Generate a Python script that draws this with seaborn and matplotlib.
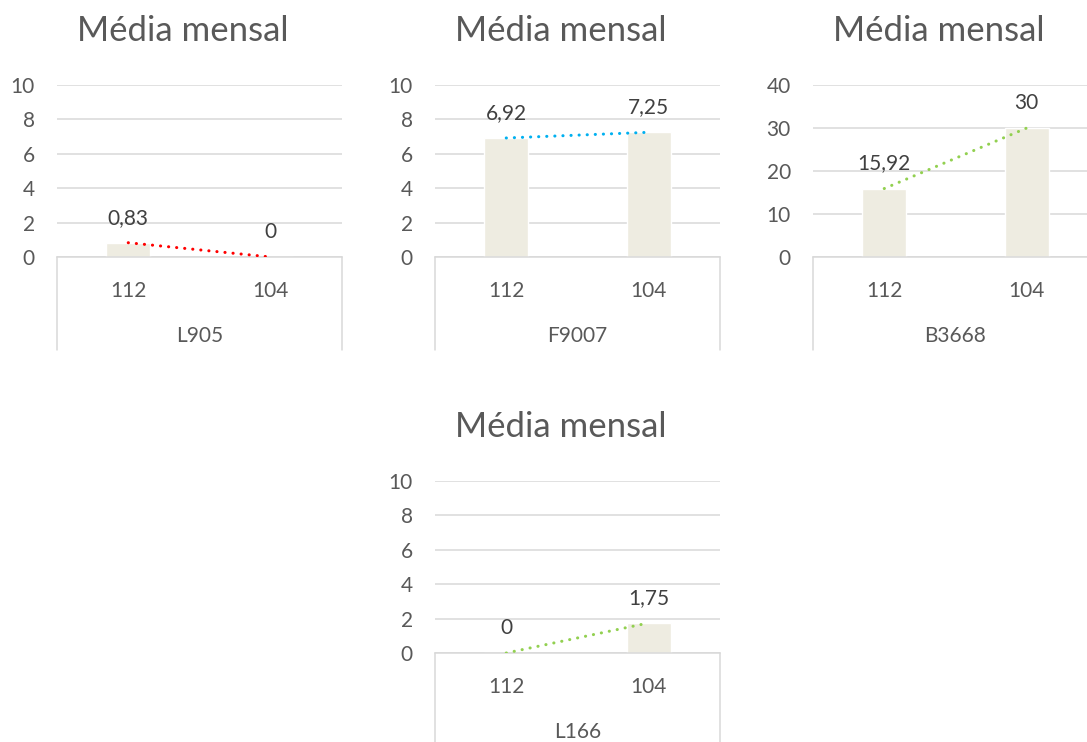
import matplotlib
matplotlib.use("Agg")
import matplotlib.pyplot as plt
from matplotlib.lines import Line2D
import seaborn as sns
import pandas as pd

# Monthly averages per product, compared between two units
months = ["112", "104"]
products = ["L905", "F9007", "B3668", "L166"]
values_l905 = [0.83, 0.0]
values_f9007 = [6.92, 7.25]
values_b3668 = [15.92, 30.0]
values_l166 = [0.0, 1.75]
value_labels_l905 = ["0,83", "0"]
value_labels_f9007 = ["6,92", "7,25"]
value_labels_b3668 = ["15,92", "30"]
value_labels_l166 = ["0", "1,75"]
y_max = [10, 10, 40, 10]
y_step = [2, 2, 10, 2]
trend_colors = ["#FF0000", "#00B0F0", "#92D050", "#92D050"]
title_text = "Média mensal"

sns.set_theme(style="white")
plt.rcParams["font.family"] = ["Lato", "DejaVu Sans"]

W, H = 1087, 742
fig = plt.figure(figsize=(W / 100, H / 100), dpi=100)
fig.patch.set_facecolor("white")

TEXT = "#595959"
LABEL = "#404040"
GRID = "#D9D9D9"
BAR = "#EEECE1"
FS = 15

# plot-area rectangles in pixels: left, top, right, bottom
frames = [
    (57, 85, 342, 257),
    (435, 85, 720, 257),
    (813, 85, 1098, 257),
    (435, 481, 720, 653),
]
series = [values_l905, values_f9007, values_b3668, values_l166]
labels = [value_labels_l905, value_labels_f9007, value_labels_b3668, value_labels_l166]


def px_axes(l, t, r, b):
    return fig.add_axes([l / W, 1 - b / H, (r - l) / W, (b - t) / H])


for i, (frame, vals, labs) in enumerate(zip(frames, series, labels)):
    l, t, r, b = frame
    ax = px_axes(l, t, r, b)
    df = pd.DataFrame({"mes": months, "media": vals})
    sns.barplot(data=df, x="mes", y="media", order=months, color=BAR,
                saturation=1, width=0.31, ax=ax, zorder=2)
    # linear trend through both months
    ax.plot([0, 1], vals, color=trend_colors[i], lw=2.2,
            linestyle=(0, (0.05, 2.6)), dash_capstyle="round", zorder=3)
    for x, v, s in zip([0, 1], vals, labs):
        ax.annotate(s, (x, v), xytext=(0, 18), textcoords="offset points",
                    ha="center", va="center", fontsize=FS, color=LABEL)

    ax.set_xlim(-0.5, 1.5)
    ax.set_ylim(0, y_max[i])
    ax.set_yticks(range(0, y_max[i] + 1, y_step[i]))
    ax.set_xlabel("")
    ax.set_ylabel("")
    ax.grid(axis="y", color=GRID, lw=1.1, zorder=0)
    ax.set_axisbelow(True)
    for side in ["top", "left", "right"]:
        ax.spines[side].set_visible(False)
    ax.spines["bottom"].set_color(GRID)
    ax.spines["bottom"].set_linewidth(1.1)
    ax.tick_params(axis="y", length=0, pad=16, labelsize=FS, labelcolor=TEXT)
    ax.tick_params(axis="x", length=0, pad=17, labelsize=FS, labelcolor=TEXT)

    # category group box below the axis
    h = b - t
    depth = 93 / h
    for xa in (0, 1):
        ax.add_line(Line2D([xa, xa], [0, -depth], transform=ax.transAxes,
                           color=GRID, lw=1.1, clip_on=False))
    ax.text(0.5, -79 / h, products[i], transform=ax.transAxes, ha="center",
            va="center", fontsize=FS, color=TEXT)

    # chart title
    cx = (l + r) / 2 - 17
    ty = t - 54
    fig.text(cx / W, 1 - ty / H, title_text, ha="center", va="center",
             fontsize=25, color=TEXT)

fig.savefig("out.png", dpi=100, facecolor="white")
